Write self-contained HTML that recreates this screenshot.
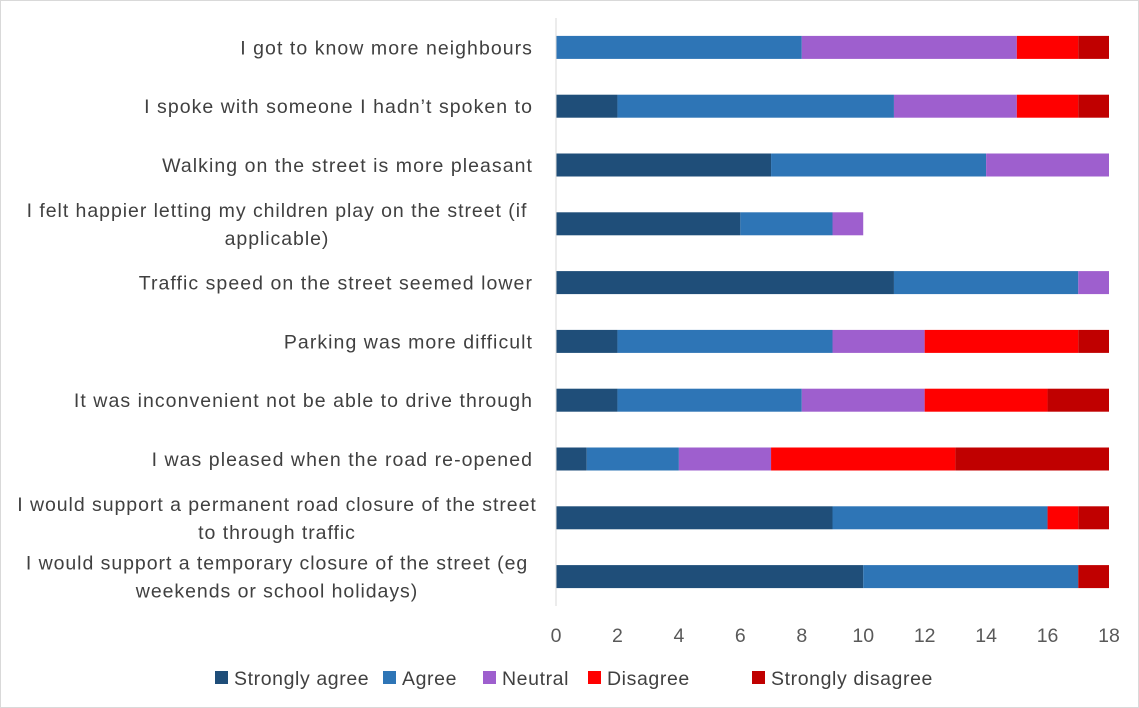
<!DOCTYPE html>
<html><head><meta charset="utf-8"><style>
body{margin:0;background:#fff;}
svg{display:block;font-family:"Liberation Sans",sans-serif;}
</style></head><body>
<svg id="chart" width="1139" height="708">
<rect x="0.5" y="0.5" width="1138" height="707" fill="#fff" stroke="#d9d9d9"/>
<g id="plot"></g>
</svg>
<script>
const categories = [
 ["I got to know more neighbours"],
 ["I spoke with someone I hadn\u2019t spoken to"],
 ["Walking on the street is more pleasant"],
 ["I felt happier letting my children play on the street (if","applicable)"],
 ["Traffic speed on the street seemed lower"],
 ["Parking was more difficult"],
 ["It was inconvenient not be able to drive through"],
 ["I was pleased when the road re-opened"],
 ["I would support a permanent road closure of the street","to through traffic"],
 ["I would support a temporary closure of the street (eg","weekends or school holidays)"]
];
const seriesNames = ["Strongly agree","Agree","Neutral","Disagree","Strongly disagree"];
const stronglyAgree = [0,2,7,6,11,2,2,1,9,10];
const agree = [8,9,7,3,6,7,6,3,7,7];
const neutral = [7,4,4,1,1,3,4,3,0,0];
const disagree = [2,2,0,0,0,5,4,6,1,0];
const stronglyDisagree = [1,1,0,0,0,1,2,5,1,1];
const ticks = [0,2,4,6,8,10,12,14,16,18];
const colors = ["#1f4e79","#2e75b6","#9e5fce","#ff0000","#c00000"];
const series = [stronglyAgree, agree, neutral, disagree, stronglyDisagree];

const NS="http://www.w3.org/2000/svg";
const g=document.getElementById('plot');
const x0=556, x1=1109, xMax=18;
const xs=v=>x0+(v/xMax)*(x1-x0);
const yTop=18, rowH=58.8;
const yc=i=>yTop+rowH*(i+0.5);
function mk(tag,attrs){const e=document.createElementNS(NS,tag);for(const k in attrs)e.setAttribute(k,attrs[k]);g.appendChild(e);return e;}

categories.forEach((lines,i)=>{
  let acc=0;
  series.forEach((s,si)=>{
    const v=s[i];
    if(v>0){
      const r=mk('rect',{x:xs(acc),y:yc(i)-11.5,width:xs(acc+v)-xs(acc),height:23,fill:colors[si]});
      
      
    }
    acc+=v;
  });
  if(lines.length===1){
    const t=mk('text',{x:533,y:yc(i)+7,'text-anchor':'end','font-size':19.5,'letter-spacing':'1.05',fill:'#404040'});
    t.textContent=lines[0];
    
    
  } else {
    lines.forEach((ln,li)=>{
      const t=mk('text',{x:277,y:yc(i)+7+(li===0?-14:14),'text-anchor':'middle','font-size':19.5,'letter-spacing':'0.95',fill:'#404040'});
      t.textContent=ln;
      
      
    });
  }
});
const ax=mk('line',{x1:x0,x2:x0,y1:yTop,y2:yTop+rowH*10,stroke:'#d9d9d9','stroke-width':1});


ticks.forEach(tk=>{
  const t=mk('text',{x:xs(tk),y:642,'text-anchor':'middle','font-size':19.5,fill:'#595959'});
  t.textContent=tk;
  
  
});
const legX=[215,383,483,588,752];
seriesNames.forEach((n,si)=>{
  const r=mk('rect',{x:legX[si],y:671,width:13,height:13,fill:colors[si]});
  
  
  const t=mk('text',{x:legX[si]+19,y:685,'font-size':19.5,'letter-spacing':'0.6',fill:'#404040'});
  t.textContent=n;
  
  
});
</script>
</body></html>
